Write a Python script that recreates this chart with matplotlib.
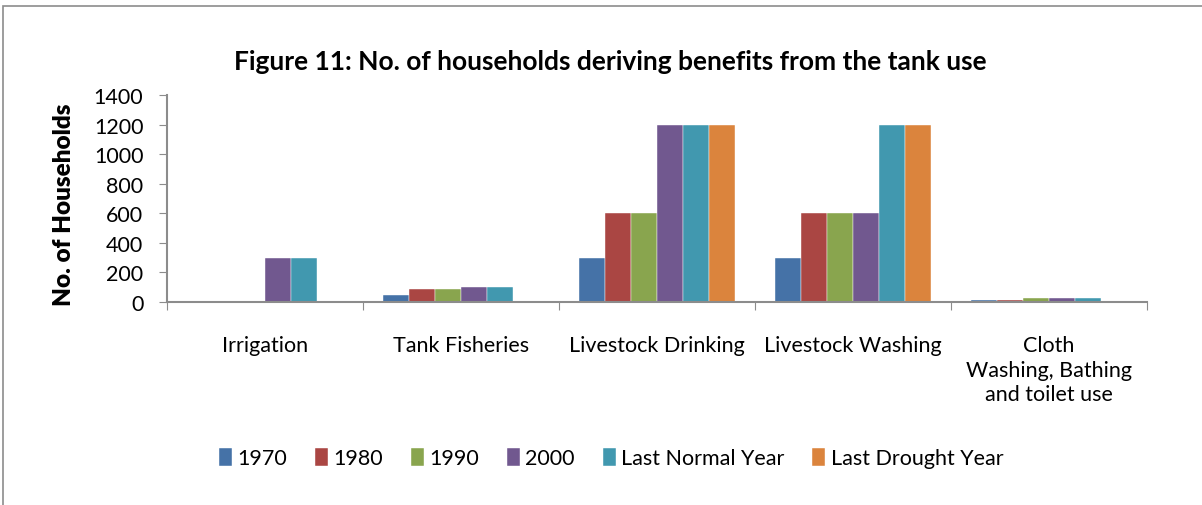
import matplotlib.pyplot as plt
import numpy as np
from matplotlib.patches import Rectangle

plt.rcParams['font.family'] = ['Lato', 'DejaVu Sans']

categories = ['Irrigation', 'Tank Fisheries', 'Livestock Drinking', 'Livestock Washing',
              'Cloth\nWashing, Bathing\nand toilet use']
series = ['1970', '1980', '1990', '2000', 'Last Normal Year', 'Last Drought Year']
v1970 = [0, 50, 300, 300, 15]
v1980 = [0, 85, 600, 600, 15]
v1990 = [0, 85, 600, 600, 25]
v2000 = [300, 100, 1200, 600, 25]
v_normal = [300, 100, 1200, 1200, 25]
v_drought = [0, 0, 1200, 1200, 0]
values = [v1970, v1980, v1990, v2000, v_normal, v_drought]
colors = ['#4572A7', '#AA4643', '#89A54E', '#71588F', '#4198AF', '#DB843D']

fig = plt.figure(figsize=(12.02, 5.06), dpi=100)
ax = fig.add_axes([167 / 1202, 1 - 303 / 506, (1147 - 167) / 1202, (303 - 96) / 506])

# outer chart frame (clipped by the image edges on the right/bottom)
fig.patches.append(Rectangle((3 / 1202, -0.1), 1.2, 1 - 7 / 506 + 0.1,
                             transform=fig.transFigure, fill=False,
                             edgecolor='#8c8c8c', linewidth=1.2))

x = np.arange(len(categories))
w = 0.8 / len(series)
for i, (name, vals, c) in enumerate(zip(series, values, colors)):
    ax.bar(x - 0.4 + w * (i + 0.5), vals, width=w, color=c, label=name,
           edgecolor='white', linewidth=0.3)

ax.set_xlim(-0.5, len(categories) - 0.5)
ax.set_ylim(0, 1400)
ax.set_yticks(range(0, 1401, 200))
ax.tick_params(axis='y', labelsize=15.5, color='#8c8c8c', length=6, pad=11)
ax.set_xticks(np.arange(-0.5, len(categories), 1))
ax.set_xticklabels([])
ax.set_xticks(x, minor=True)
ax.set_xticklabels(categories, minor=True, fontsize=15.5, linespacing=1.28, va='top')
ax.tick_params(axis='x', which='major', color='#8c8c8c', length=6)
ax.tick_params(axis='x', which='minor', length=0, pad=24)
for s in ['top', 'right']:
    ax.spines[s].set_visible(False)
for s in ['left', 'bottom']:
    ax.spines[s].set_color('#8c8c8c')
    ax.spines[s].set_linewidth(1.5)

fig.text(64 / 1202, 1 - 205 / 506, 'No. of Households', rotation=90,
         ha='center', va='center', fontsize=17.5, fontweight='heavy')
fig.text(610 / 1202, 1 - 62 / 506, 'Figure 11: No. of households deriving benefits from the tank use',
         ha='center', va='center', fontsize=19, fontweight='bold')

fig.legend(loc='center', bbox_to_anchor=(611 / 1202, 1 - 459 / 506), ncol=6,
           frameon=False, fontsize=15.5, handlelength=0.6, handleheight=0.9,
           handletextpad=0.25, columnspacing=1.3)

fig.savefig('out.png', dpi=100)
